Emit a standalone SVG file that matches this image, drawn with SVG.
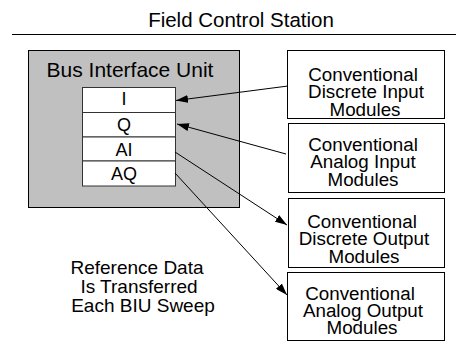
<svg xmlns="http://www.w3.org/2000/svg" width="456" height="352" viewBox="0 0 456 352">
<style>
text{font-family:"Liberation Sans",Arial,sans-serif;fill:#000;text-anchor:middle}
.box{fill:#fff;stroke:#000;stroke-width:1}
.cell{fill:#fff;stroke:#333;stroke-width:1}
.bt{font-size:18.8px}
.nt{font-size:19px}
.ct{font-size:18px}
.conn{stroke:#000;stroke-width:1;fill:none}
</style>
<defs>
<marker id="ah" viewBox="0 0 12 8" refX="12" refY="4" markerWidth="12" markerHeight="8" markerUnits="userSpaceOnUse" orient="auto">
<path d="M0,0 L12,4 L0,8 Z" fill="#000"/>
</marker>
</defs>
<g id="title">
<text x="241" y="27" style="font-size:20.5px">Field Control Station</text>
<line x1="12" y1="34.5" x2="456" y2="34.5" stroke="#000" stroke-width="1"/>
</g>
<g id="biu">
<rect x="28.5" y="50.5" width="211" height="157" fill="#c0c0c0" stroke="#000"/>
<text x="130" y="77" style="font-size:21px">Bus Interface Unit</text>
</g>
<g id="cell-I"><rect class="cell" x="82.5" y="87.5" width="93" height="25"/><text class="ct" x="124" y="105">I</text></g>
<g id="cell-Q"><rect class="cell" x="82.5" y="112.5" width="93" height="24.5"/><text class="ct" x="124" y="131">Q</text></g>
<g id="cell-AI"><rect class="cell" x="82.5" y="137" width="93" height="24"/><text class="ct" x="124" y="156">AI</text></g>
<g id="cell-AQ"><rect class="cell" x="82.5" y="161" width="93" height="25"/><text class="ct" x="124" y="180">AQ</text></g>
<g id="dim">
<rect class="box" x="287.5" y="50.5" width="157" height="68"/>
<text class="bt" x="363" y="81">Conventional</text>
<text class="bt" x="366" y="98">Discrete Input</text>
<text class="bt" x="365" y="116">Modules</text>
</g>
<g id="aim">
<rect class="box" x="288.5" y="123.5" width="156" height="69"/>
<text class="bt" x="363" y="151">Conventional</text>
<text class="bt" x="363" y="168">Analog Input</text>
<text class="bt" x="363" y="186">Modules</text>
</g>
<g id="dom">
<rect class="box" x="288.5" y="198.5" width="156" height="69"/>
<text class="bt" x="362" y="228">Conventional</text>
<text class="bt" x="364" y="245">Discrete Output</text>
<text class="bt" x="364" y="263">Modules</text>
</g>
<g id="aom">
<rect class="box" x="287.5" y="272.5" width="157" height="68"/>
<text class="bt" x="360" y="300">Conventional</text>
<text class="bt" x="363" y="317">Analog Output</text>
<text class="bt" x="362" y="334">Modules</text>
</g>
<g id="note">
<text class="nt" x="137" y="274">Reference Data</text>
<text class="nt" x="139" y="293">Is Transferred</text>
<text class="nt" x="143" y="312">Each BIU Sweep</text>
</g>
<g id="connectors">
<line class="conn" x1="288" y1="86" x2="176" y2="100.5" marker-end="url(#ah)"/>
<line class="conn" x1="286" y1="154" x2="177" y2="124" marker-end="url(#ah)"/>
<line class="conn" x1="175" y1="152" x2="287" y2="225" marker-end="url(#ah)"/>
<line class="conn" x1="175" y1="173" x2="287" y2="295" marker-end="url(#ah)"/>
</g>
</svg>
